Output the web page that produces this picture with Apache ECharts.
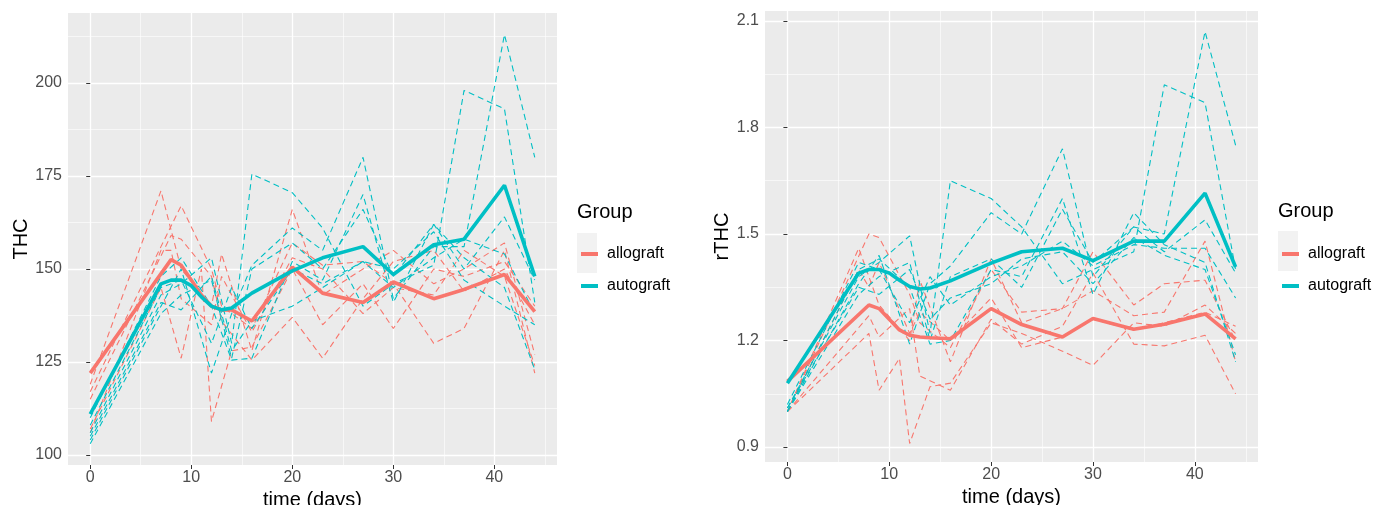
<!DOCTYPE html>
<html>
<head>
<meta charset="utf-8">
<script src="https://cdn.jsdelivr.net/npm/echarts@6/dist/echarts.min.js"></script>
<style>
  html, body { margin: 0; background: #fff; }
  #chart { width: 1385px; height: 505px; }
</style>
</head>
<body>
<div id="chart"></div>
<script>
// ---- data: THC (left panel) ----
var thcAlloMean = [[0,122],[8,152.5],[9,151],[10,147],[11,143],[12,140],[13,139],[14,139],[16,136],[20,150.5],[23,143.5],[27,141],[30,146.5],[34,142],[37,144.5],[41,148.5],[44,138.5]];
var thcAutoMean = [[0,111],[7,146],[8,147],[9,147],[10,145.5],[11,142.5],[12,140],[13,139],[14,139.5],[16,143.5],[20,149.5],[23,153],[27,156],[30,148.5],[34,156.5],[37,158],[41,172.5],[44,148]];

var thcAllo = [
  [[0,119],[7,171],[9,150],[12,140],[13,154],[16,128],[20,166],[23,143],[27,150],[30,155],[34,146],[37,150],[41,157],[44,127]],
  [[0,117],[7,156],[9,167],[12,150],[13,140],[16,134],[20,157],[23,151],[27,152],[30,146],[34,130],[37,134],[41,155],[44,122]],
  [[0,115],[8,159],[9,158],[12,148],[13,136],[16,125.5],[20,137],[23,126],[27,142],[30,152],[34,155],[37,144],[41,150],[44,135]],
  [[0,107],[7,145],[9,126],[11,150],[12,109],[14,128],[16,129],[20,150],[23,135],[27,146],[30,134],[34,150],[37,148],[41,152],[44,140]],
  [[0,106],[7,155],[8,155],[9,142],[12,135],[13,148],[16,133],[20,153],[23,150],[27,138],[30,145],[34,143],[37,155],[41,148],[44,124]]
];
var thcAuto = [
  [[0,110],[7,148],[9,153],[12,140],[14,125.5],[16,126],[20,152],[23,147],[27,170],[30,141],[34,162],[37,153],[41,145],[44,123]],
  [[0,106],[7,143],[9,146],[12,153],[14,130],[16,175.5],[20,170.5],[23,161],[27,140],[30,146],[34,151],[37,198],[41,193],[44,141]],
  [[0,104],[7,140],[9,150],[12,122],[14,138],[16,151],[20,161],[23,155],[27,180],[30,142],[34,156],[37,156],[41,213],[44,180]],
  [[0,103],[7,138],[9,143],[12,147],[14,126],[16,150],[20,157],[23,150],[27,166],[30,148],[34,162],[37,150],[41,164],[44,147]],
  [[0,108],[7,145],[9,147],[12,130],[14,145],[16,134],[20,150],[23,146],[27,152],[30,145],[34,153],[37,158],[41,154],[44,138]],
  [[0,105],[7,141],[9,139],[12,148],[14,128],[16,136],[20,140],[23,145],[27,152],[30,150],[34,160],[37,147],[41,140],[44,135]]
];

// ---- data: rTHC (right panel) ----
var rAlloMean = [[0,1.085],[8,1.30],[9,1.29],[10,1.26],[11,1.23],[12,1.215],[13,1.21],[14,1.208],[16,1.205],[20,1.29],[23,1.245],[27,1.21],[30,1.262],[34,1.232],[37,1.246],[41,1.275],[44,1.205]];
var rAutoMean = [[0,1.08],[7,1.39],[8,1.40],[9,1.40],[10,1.39],[11,1.37],[12,1.352],[13,1.345],[14,1.348],[16,1.368],[20,1.418],[23,1.45],[27,1.46],[30,1.425],[34,1.48],[37,1.48],[41,1.615],[44,1.407]];

var rAllo = [
  [[0,1.0],[7,1.46],[9,1.30],[12,1.20],[13,1.37],[16,1.14],[20,1.43],[23,1.25],[27,1.29],[30,1.34],[34,1.27],[37,1.28],[41,1.48],[44,1.14]],
  [[0,1.0],[8,1.50],[9,1.49],[12,1.33],[13,1.25],[16,1.18],[20,1.40],[23,1.28],[27,1.29],[30,1.45],[34,1.30],[37,1.36],[41,1.37],[44,1.20]],
  [[0,1.0],[8,1.27],[9,1.21],[12,1.29],[13,1.10],[16,1.06],[20,1.26],[23,1.19],[27,1.24],[30,1.39],[34,1.19],[37,1.185],[41,1.215],[44,1.05]],
  [[0,1.0],[8,1.22],[9,1.06],[11,1.15],[12,0.91],[14,1.07],[16,1.08],[20,1.25],[23,1.22],[27,1.17],[30,1.13],[34,1.25],[37,1.24],[41,1.30],[44,1.22]],
  [[0,1.0],[7,1.40],[8,1.35],[9,1.42],[12,1.22],[13,1.28],[16,1.20],[20,1.32],[23,1.18],[27,1.21],[30,1.26],[34,1.23],[37,1.25],[41,1.28],[44,1.24]]
];
var rAuto = [
  [[0,1.0],[7,1.40],[9,1.43],[12,1.35],[14,1.19],[16,1.20],[20,1.40],[23,1.38],[27,1.60],[30,1.33],[34,1.56],[37,1.47],[41,1.42],[44,1.14]],
  [[0,1.01],[7,1.38],[9,1.42],[12,1.495],[14,1.22],[16,1.65],[20,1.60],[23,1.52],[27,1.36],[30,1.40],[34,1.45],[37,1.92],[41,1.87],[44,1.40]],
  [[0,1.0],[7,1.36],[9,1.44],[12,1.19],[14,1.36],[16,1.41],[20,1.56],[23,1.50],[27,1.74],[30,1.38],[34,1.52],[37,1.50],[41,2.07],[44,1.75]],
  [[0,1.0],[7,1.33],[9,1.38],[12,1.42],[14,1.20],[16,1.38],[20,1.43],[23,1.35],[27,1.57],[30,1.42],[34,1.52],[37,1.45],[41,1.54],[44,1.39]],
  [[0,1.02],[7,1.42],[9,1.40],[12,1.25],[14,1.38],[16,1.30],[20,1.38],[23,1.41],[27,1.48],[30,1.41],[34,1.47],[37,1.46],[41,1.46],[44,1.32]],
  [[0,1.01],[7,1.35],[9,1.33],[12,1.40],[14,1.26],[16,1.32],[20,1.36],[23,1.43],[27,1.45],[30,1.36],[34,1.49],[37,1.44],[41,1.40],[44,1.16]]
];

// tick labels
var xTicks = [0, 10, 20, 30, 40];
var xMinor = [5, 15, 25, 35, 45];
var thcTicks = [100, 125, 150, 175, 200];
var thcMinor = [112.5, 137.5, 162.5, 187.5, 212.5];
var rTicks = [0.9, 1.2, 1.5, 1.8, 2.1];
var rMinor = [1.05, 1.35, 1.65, 1.95];

var RED = '#F8766D', TEAL = '#00BFC4';
var FONT = 'Liberation Sans, Arial, sans-serif';

var chart = echarts.init(document.getElementById('chart'));

function xAxes(grid) {
  return [{
    type: 'value', gridIndex: grid, min: -2.2, max: 46.2,
    name: 'time (days)', nameLocation: 'middle', nameGap: 23,
    nameTextStyle: { fontSize: 20, color: '#000', fontFamily: FONT },
    axisLine: { show: false },
    axisTick: { show: true, length: 4, customValues: xTicks, lineStyle: { color: '#333', width: 1 } },
    axisLabel: { customValues: xTicks, margin: 5, fontSize: 16, color: '#4D4D4D', fontFamily: FONT },
    splitLine: { show: true, lineStyle: { color: '#fff', width: 1.3 } }
  }, {
    type: 'value', gridIndex: grid, min: -2.2, max: 46.2, position: 'top',
    axisLine: { show: false }, axisLabel: { show: false },
    axisTick: { show: false, customValues: xMinor },
    splitLine: { show: true, lineStyle: { color: '#fff', width: 0.6 } }
  }];
}
function yAxes(grid, min, max, ticks, minor, name, gap) {
  return [{
    type: 'value', gridIndex: grid, min: min, max: max,
    name: name, nameLocation: 'middle', nameGap: gap, nameRotate: 90,
    nameTextStyle: { fontSize: 20, color: '#000', fontFamily: FONT },
    axisLine: { show: false },
    axisTick: { show: true, length: 4, customValues: ticks, lineStyle: { color: '#333', width: 1 } },
    axisLabel: { customValues: ticks, margin: 6, fontSize: 16, color: '#4D4D4D', fontFamily: FONT },
    splitLine: { show: true, lineStyle: { color: '#fff', width: 1.3 } }
  }, {
    type: 'value', gridIndex: grid, min: min, max: max, position: 'right',
    axisLine: { show: false }, axisLabel: { show: false },
    axisTick: { show: false, customValues: minor },
    splitLine: { show: true, lineStyle: { color: '#fff', width: 0.6 } }
  }];
}

var series = [];
function addPanel(allo, auto, alloMean, autoMean, xi, yi) {
  allo.forEach(function (d, i) {
    series.push({ name: 'allo' + i, type: 'line', xAxisIndex: xi, yAxisIndex: yi, data: d,
      symbol: 'none', lineStyle: { color: RED, width: 1.1, type: [6, 4] }, z: 2 });
  });
  auto.forEach(function (d, i) {
    series.push({ name: 'auto' + i, type: 'line', xAxisIndex: xi, yAxisIndex: yi, data: d,
      symbol: 'none', lineStyle: { color: TEAL, width: 1.1, type: [6, 4] }, z: 2 });
  });
  series.push({ name: 'allograft', type: 'line', xAxisIndex: xi, yAxisIndex: yi, data: alloMean,
    symbol: 'none', color: RED, lineStyle: { color: RED, width: 3.6 }, z: 3 });
  series.push({ name: 'autograft', type: 'line', xAxisIndex: xi, yAxisIndex: yi, data: autoMean,
    symbol: 'none', color: TEAL, lineStyle: { color: TEAL, width: 3.6 }, z: 3 });
}
addPanel(thcAllo, thcAuto, thcAlloMean, thcAutoMean, 0, 0);
addPanel(rAllo, rAuto, rAlloMean, rAutoMean, 2, 2);

function legendAt(left) {
  return {
    data: ['allograft', 'autograft'], orient: 'vertical', left: left, top: 241,
    icon: 'rect', itemWidth: 17, itemHeight: 4, itemGap: 16,
    selectedMode: false,
    textStyle: { fontSize: 16, color: '#000', fontFamily: FONT, padding: [0, 0, 0, 4] }
  };
}

chart.setOption({
  animation: false,
  grid: [
    { left: 68, top: 13, width: 489, height: 452, outerBoundsMode: 'none', containLabel: false,
      show: true, backgroundColor: '#EBEBEB', borderWidth: 0 },
    { left: 765, top: 11, width: 493, height: 451, outerBoundsMode: 'none', containLabel: false,
      show: true, backgroundColor: '#EBEBEB', borderWidth: 0 }
  ],
  xAxis: xAxes(0).concat(xAxes(1)),
  yAxis: yAxes(0, 97.3, 218.8, thcTicks, thcMinor, 'THC', 36)
    .concat(yAxes(1, 0.858, 2.128, rTicks, rMinor, 'rTHC', 32)),
  legend: [legendAt(576), legendAt(1277)],
  graphic: [
    { type: 'rect', left: 577, top: 233, shape: { width: 20, height: 40 }, style: { fill: '#F2F2F2' }, z: -1 },
    { type: 'rect', left: 1278, top: 231, shape: { width: 20, height: 40 }, style: { fill: '#F2F2F2' }, z: -1 },
    { type: 'text', left: 577, top: 202, style: { text: 'Group', fontSize: 20, fill: '#000', fontFamily: FONT } },
    { type: 'text', left: 1278, top: 201, style: { text: 'Group', fontSize: 20, fill: '#000', fontFamily: FONT } }
  ],
  series: series
});
</script>
</body>
</html>
